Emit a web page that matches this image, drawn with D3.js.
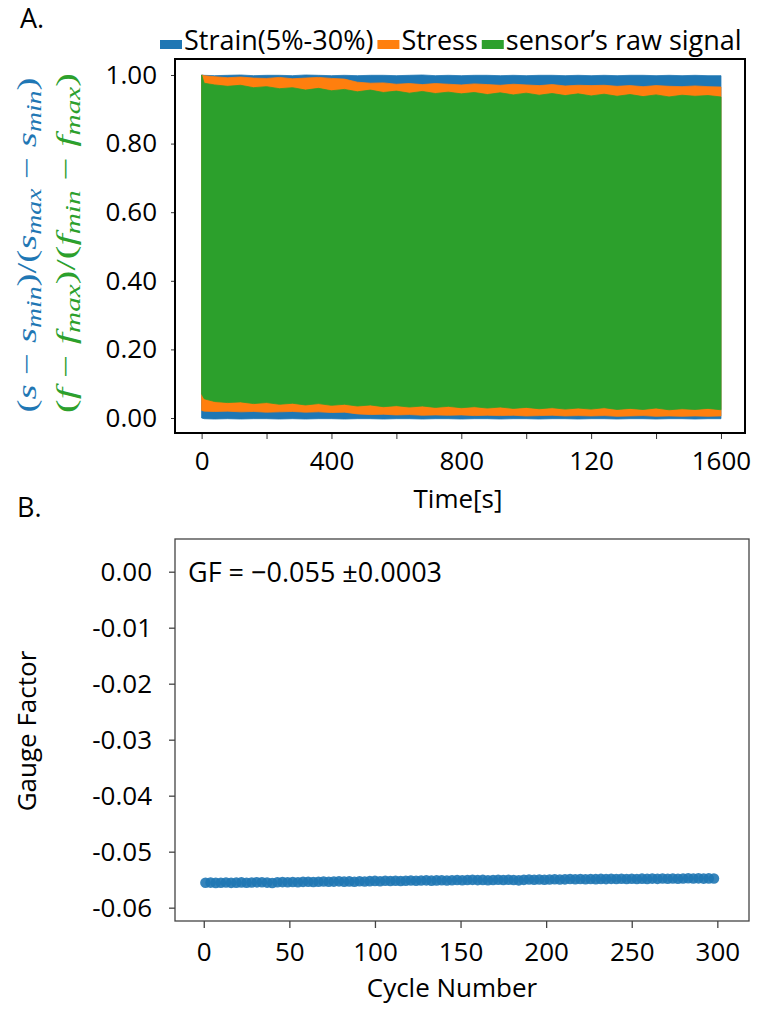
<!DOCTYPE html>
<html>
<head>
<meta charset="utf-8">
<script src="https://cdn.jsdelivr.net/npm/d3@7"></script>
<style>
  body { margin: 0; background: #fff; }
  svg { display: block; font-family: "Open Sans", sans-serif; }
</style>
</head>
<body>
<div class="svg-container"></div>
<script>
// panel A: envelopes of the cycling signals
const timeA = [0, 8, 40, 80, 120, 160, 200, 240, 280, 320, 360, 400, 440, 480, 520, 560, 600, 640, 680, 720, 760,
  800, 840, 880, 920, 960, 1000, 1040, 1080, 1120, 1160, 1200, 1240, 1280, 1320, 1360, 1400, 1440, 1480, 1520, 1560, 1600];
const strainMax = [1.0, 0.999, 0.998, 0.999, 1.0, 0.998, 0.999, 0.999, 0.998, 1.0, 0.999, 0.998, 0.999, 0.998, 0.999, 0.999,
  0.998, 0.999, 1.0, 0.998, 0.999, 0.998, 0.999, 0.999, 0.998, 0.999, 0.998, 0.999, 0.999, 0.998, 0.999, 0.998,
  0.999, 0.998, 0.999, 0.999, 0.998, 0.999, 0.998, 0.999, 0.998, 0.998];
const strainMin = [0.0, -0.002, -0.003, -0.002, -0.003, -0.002, -0.002, -0.003, -0.002, -0.003, -0.002, -0.002, -0.003,
  -0.002, -0.002, -0.003, -0.002, -0.002, -0.003, -0.002, -0.002, -0.003, -0.002, -0.002, -0.003, -0.002, -0.002,
  -0.003, -0.002, -0.002, -0.003, -0.002, -0.002, -0.003, -0.002, -0.002, -0.003, -0.002, -0.002, -0.003, -0.002, -0.002];
const stressMax = [1.0, 0.998, 0.995, 0.992, 0.994, 0.991, 0.990, 0.993, 0.989, 0.991, 0.993, 0.990, 0.988, 0.979,
  0.976, 0.977, 0.973, 0.975, 0.972, 0.975, 0.973, 0.971, 0.974, 0.972, 0.970, 0.973, 0.971, 0.969, 0.972, 0.968,
  0.970, 0.969, 0.970, 0.967, 0.969, 0.966, 0.969, 0.967, 0.966, 0.968, 0.966, 0.965];
const stressMin = [0.022, 0.020, 0.019, 0.020, 0.018, 0.019, 0.017, 0.018, 0.019, 0.017, 0.018, 0.016, 0.017, 0.012,
  0.010, 0.011, 0.009, 0.010, 0.008, 0.009, 0.008, 0.009, 0.007, 0.008, 0.007, 0.008, 0.006, 0.007, 0.008, 0.006,
  0.007, 0.006, 0.007, 0.005, 0.006, 0.007, 0.005, 0.006, 0.005, 0.006, 0.005, 0.006];
const signalMax = [1.0, 0.976, 0.971, 0.967, 0.970, 0.963, 0.966, 0.960, 0.963, 0.956, 0.961, 0.954, 0.958, 0.951,
  0.956, 0.949, 0.953, 0.947, 0.952, 0.946, 0.950, 0.945, 0.949, 0.943, 0.948, 0.942, 0.947, 0.941, 0.946, 0.940,
  0.945, 0.939, 0.944, 0.938, 0.943, 0.937, 0.942, 0.936, 0.941, 0.938, 0.940, 0.936];
const signalMin = [0.070, 0.056, 0.048, 0.045, 0.047, 0.042, 0.045, 0.040, 0.043, 0.038, 0.042, 0.037, 0.040, 0.035,
  0.038, 0.033, 0.036, 0.032, 0.035, 0.031, 0.034, 0.030, 0.033, 0.029, 0.032, 0.028, 0.031, 0.027, 0.030, 0.026,
  0.029, 0.026, 0.030, 0.025, 0.028, 0.025, 0.029, 0.024, 0.027, 0.025, 0.028, 0.024];
const xTicksA = [0, 200, 400, 600, 800, 1000, 1200, 1400, 1600];
const xTickLabelsA = ['0', '', '400', '', '800', '', '120', '', '1600'];
const yTicksA = [0, 0.2, 0.4, 0.6, 0.8, 1.0];
const legendA = ['Strain(5%-30%)', 'Stress', 'sensor\u2019s raw signal'];

// panel B: gauge factor per cycle
const cyclesB = d3.range(1, 300, 3);
const gaugeFactor = [
  -0.05556, -0.05552, -0.05558, -0.05554, -0.05550, -0.05557, -0.05553, -0.05549, -0.05555, -0.05551,
  -0.05548, -0.05545, -0.05552, -0.05560, -0.05546, -0.05543, -0.05547, -0.05541, -0.05545, -0.05539,
  -0.05536, -0.05541, -0.05537, -0.05533, -0.05538, -0.05534, -0.05530, -0.05535, -0.05531, -0.05536,
  -0.05529, -0.05533, -0.05526, -0.05522, -0.05527, -0.05520, -0.05524, -0.05518, -0.05523, -0.05519,
  -0.05515, -0.05520, -0.05516, -0.05512, -0.05517, -0.05513, -0.05509, -0.05514, -0.05510, -0.05506,
  -0.05511, -0.05507, -0.05503, -0.05508, -0.05504, -0.05509, -0.05505, -0.05501, -0.05506, -0.05502,
  -0.05507, -0.05512, -0.05503, -0.05498, -0.05502, -0.05497, -0.05501, -0.05496, -0.05493, -0.05498,
  -0.05494, -0.05489, -0.05493, -0.05488, -0.05492, -0.05487, -0.05491, -0.05486, -0.05490, -0.05485,
  -0.05489, -0.05484, -0.05488, -0.05483, -0.05487, -0.05482, -0.05486, -0.05481, -0.05485, -0.05480,
  -0.05484, -0.05479, -0.05483, -0.05478, -0.05474, -0.05480, -0.05476, -0.05481, -0.05477, -0.05479];
const xTicksB = [0, 50, 100, 150, 200, 250, 300];
const yTicksB = [0, -0.01, -0.02, -0.03, -0.04, -0.05, -0.06];
const yTickLabelsB = ['0.00', '-0.01', '-0.02', '-0.03', '-0.04', '-0.05', '-0.06'];

document.addEventListener('DOMContentLoaded', function() {
  fig.makeSvg();
  fig.panelA();
  fig.panelB();
});

let fig = {
  colors: { blue: '#1f77b4', orange: '#ff7f0e', green: '#2ca02c' },
  fontSize: 26,
  svg: null,
  makeSvg() {
    fig.svg = d3.select('.svg-container').append('svg')
      .attr('width', 761).attr('height', 1010);
  },
  // rotated label built from [text, kind] parts, stretched along its length only
  mathLabel(x, y, parts, color, len) {
    let t = fig.svg.append('text')
      .attr('transform', 'translate(' + x + ',' + y + ') rotate(-90)')
      .attr('text-anchor', 'middle')
      .style('font-family', '"Liberation Serif", serif')
      .style('font-size', '28px')
      .attr('fill', color);
    let shifted = false;
    parts.forEach(function(p) {
      let s = t.append('tspan').text(p[0]);
      if (p[1] === 'sub') {
        s.style('font-style', 'italic').style('font-size', '20px');
        if (!shifted) { s.attr('dy', 5); shifted = true; }
      } else {
        if (shifted) { s.attr('dy', -5); shifted = false; }
        if (p[1] === 'i') s.style('font-style', 'italic');
      }
    });
    let k = len / t.node().getComputedTextLength();
    t.attr('transform', 'translate(' + x + ',' + y + ') rotate(-90) scale(' + k + ',1)');
  },
  panelA() {
    const svg = fig.svg;
    const x = d3.scaleLinear().domain([-82, 1674]).range([175, 745]);
    const y = d3.scaleLinear().domain([-0.0437, 1.0466]).range([433, 59]);

    svg.append('text').attr('x', 20).attr('y', 28).style('font-size', '27px').text('A.');

    const area = d3.area()
      .x(d => x(d.t)).y0(d => y(d.lo)).y1(d => y(d.hi));
    const bands = [
      { lo: strainMin, hi: strainMax, color: fig.colors.blue },
      { lo: stressMin, hi: stressMax, color: fig.colors.orange },
      { lo: signalMin, hi: signalMax, color: fig.colors.green }
    ];
    bands.forEach(function(b) {
      const rows = timeA.map((t, i) => ({ t: t, lo: b.lo[i], hi: b.hi[i] }));
      svg.append('path').datum(rows)
        .attr('d', area)
        .attr('fill', b.color)
        .attr('stroke', b.color)
        .attr('stroke-width', 0.8);
    });

    // axes
    const ya = svg.append('g').attr('transform', 'translate(175,0)')
      .call(d3.axisLeft(y).tickValues(yTicksA).tickFormat(d3.format('.2f')).tickSize(4).tickPadding(14));
    const xa = svg.append('g').attr('transform', 'translate(0,433)')
      .call(d3.axisBottom(x).tickValues(xTicksA).tickFormat((d, i) => xTickLabelsA[i]).tickSize(6));
    [ya, xa].forEach(function(g) {
      g.select('.domain').remove();
      g.selectAll('line').attr('stroke', '#333').attr('stroke-width', 1);
      g.selectAll('text').attr('fill', '#000').style('font-size', fig.fontSize + 'px')
        .style('font-family', '"Open Sans", sans-serif');
    });
    xa.selectAll('text').attr('y', 37).attr('dy', 0);

    svg.append('rect').attr('x', 175).attr('y', 59).attr('width', 570).attr('height', 374)
      .attr('fill', 'none').attr('stroke', '#000').attr('stroke-width', 2);

    svg.append('text').attr('x', 458).attr('y', 508).attr('text-anchor', 'middle')
      .style('font-size', fig.fontSize + 'px').text('Time[s]');

    // legend above the frame
    let lx = 160;
    legendA.forEach(function(name, i) {
      const c = [fig.colors.blue, fig.colors.orange, fig.colors.green][i];
      svg.append('rect').attr('x', lx).attr('y', 40).attr('width', 22).attr('height', 9).attr('fill', c);
      const t = svg.append('text').attr('x', lx + 24).attr('y', 50)
        .style('font-size', '27px').text(name);
      lx = lx + 24 + t.node().getComputedTextLength() + 4;
    });

    // y label (two coloured lines)
    fig.mathLabel(36, 245, [['(', 'n'], ['s', 'i'], [' \u2212 ', 'n'], ['s', 'i'], ['min', 'sub'], [')/(', 'n'],
      ['s', 'i'], ['max', 'sub'], [' \u2212 ', 'n'], ['s', 'i'], ['min', 'sub'], [')', 'n']], fig.colors.blue, 335);
    fig.mathLabel(75, 243, [['(', 'n'], ['f', 'i'], [' \u2212 ', 'n'], ['f', 'i'], ['max', 'sub'], [')/(', 'n'],
      ['f', 'i'], ['min', 'sub'], [' \u2212 ', 'n'], ['f', 'i'], ['max', 'sub'], [')', 'n']], fig.colors.green, 340);
  },
  panelB() {
    const svg = fig.svg;
    const x = d3.scaleLinear().domain([-16.8, 318.5]).range([175, 749]);
    const y = d3.scaleLinear().domain([-0.06238, 0.00584]).range([921, 539]);

    svg.append('text').attr('x', 17).attr('y', 517).style('font-size', '27px').text('B.');

    svg.append('g').selectAll('circle')
      .data(cyclesB.map((c, i) => ({ c: c, v: gaugeFactor[i] })))
      .enter().append('circle')
      .attr('cx', d => x(d.c)).attr('cy', d => y(d.v))
      .attr('r', 5.3)
      .attr('fill', fig.colors.blue)
      .attr('fill-opacity', 0.9);

    const ya = svg.append('g').attr('transform', 'translate(175,0)')
      .call(d3.axisLeft(y).tickValues(yTicksB).tickFormat((d, i) => yTickLabelsB[i]).tickSize(6).tickPadding(17));
    const xa = svg.append('g').attr('transform', 'translate(0,921)')
      .call(d3.axisBottom(x).tickValues(xTicksB).tickSize(7));
    [ya, xa].forEach(function(g) {
      g.select('.domain').remove();
      g.selectAll('line').attr('stroke', '#444').attr('stroke-width', 1.3);
      g.selectAll('text').attr('fill', '#000').style('font-size', fig.fontSize + 'px')
        .style('font-family', '"Open Sans", sans-serif');
    });
    xa.selectAll('text').attr('y', 40).attr('dy', 0);

    svg.append('rect').attr('x', 175).attr('y', 539).attr('width', 574).attr('height', 382)
      .attr('fill', 'none').attr('stroke', '#444').attr('stroke-width', 1.3);

    svg.append('text').attr('x', 188).attr('y', 582)
      .style('font-size', '27px').text('GF = \u22120.055 \u00b10.0003');

    svg.append('text').attr('x', 452).attr('y', 997).attr('text-anchor', 'middle')
      .style('font-size', fig.fontSize + 'px').text('Cycle Number');
    svg.append('text')
      .attr('transform', 'translate(36,731) rotate(-90)')
      .attr('text-anchor', 'middle')
      .style('font-size', fig.fontSize + 'px').text('Gauge Factor');
  }
};
</script>
</body>
</html>
